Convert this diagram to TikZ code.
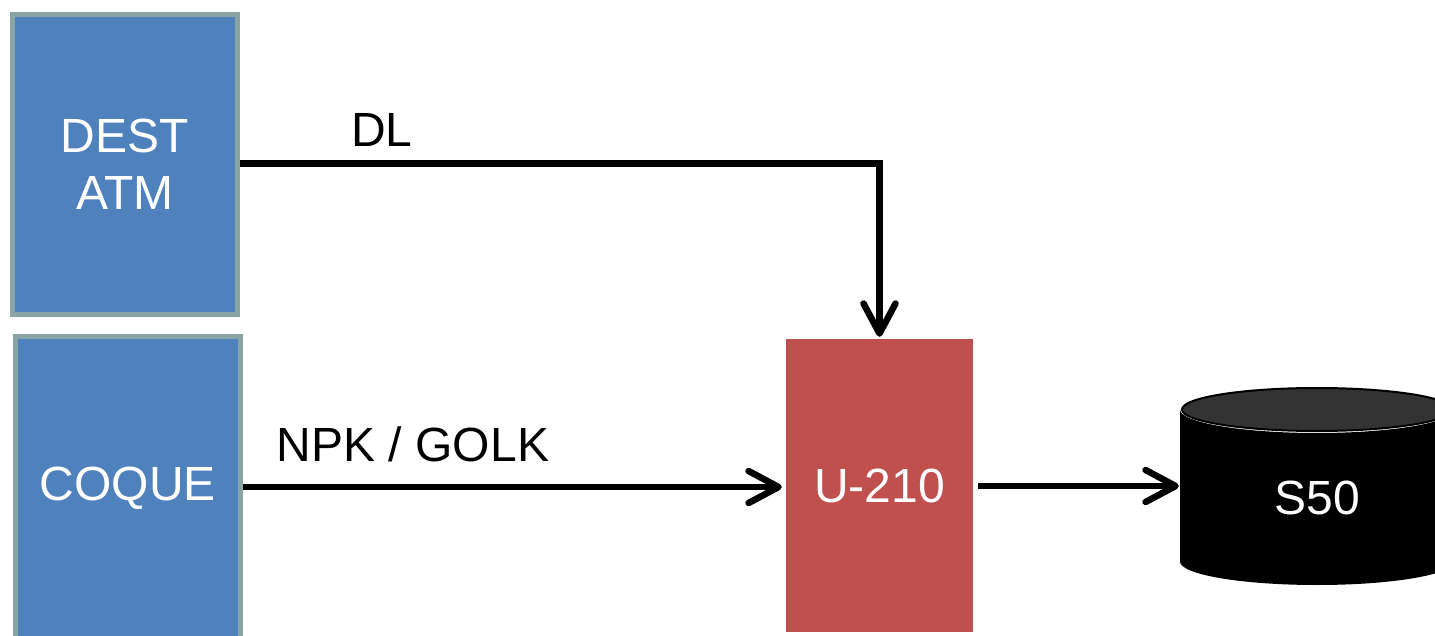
\documentclass[tikz,border=0pt]{standalone}
\usepackage{fontspec}
\setmainfont{Liberation Sans}
\usetikzlibrary{arrows.meta}
\definecolor{boxblue}{HTML}{4F81BD}
\definecolor{boxedge}{HTML}{8AA4A6}
\definecolor{boxred}{HTML}{C0504D}
\definecolor{disktop}{HTML}{333333}
\definecolor{shadowgray}{HTML}{A8A8A8}
\tikzset{
  bigfont/.style={font=\fontsize{48}{57}\selectfont},
  bluebox/.style={draw=boxedge, line width=5pt, fill=boxblue, text=white, align=center,
    bigfont, inner sep=0pt},
  redbox/.style={fill=boxred, text=white, bigfont, inner sep=0pt},
  conn/.style={line width=6.5pt, draw=black, -{Straight Barb[length=30pt,width=32pt,round]},
    preaction={draw=shadowgray, transform canvas={shift={(1pt,-2.5pt)}}}},
  lbl/.style={bigfont, inner sep=0pt}
}
\begin{document}
\begin{tikzpicture}[x=1pt,y=-1pt]
\useasboundingbox (0,0) rectangle (1435,636);
\clip (0,0) rectangle (1435,636);
% boxes
\node[bluebox, minimum width=225pt, minimum height=300pt] (dest) at (125,164.5) {DEST\\ATM};
\node[bluebox, minimum width=225pt, minimum height=303pt] (coque) at (128,488) {COQUE};
\node[redbox, minimum width=187pt, minimum height=293pt] (u210) at (879.5,485.5) {U-210};
% cylinder S50
\fill[black] (1180,409.5) -- (1180,561.5) arc[start angle=180, end angle=0, x radius=137, y radius=23.5]
  -- (1454,409.5) arc[start angle=0, end angle=180, x radius=137, y radius=23.5] -- cycle;
\draw[black, line width=2pt, fill=disktop] (1317,409.5) ellipse [x radius=135, y radius=21.5];
\node[inner sep=0pt, minimum width=274pt, minimum height=199pt, text=white, bigfont]
  (s50) at (1317,498) {S50};
% labels
\node[lbl] (dl) at (382,130) {DL};
\node[lbl] (npk) at (413,444) {NPK / GOLK};
% connectors
\draw[conn, shorten >=2pt] (dest.east |- 0,163.5) -| (u210.north);
\draw[conn, shorten >=4pt] (coque.east |- 0,487) -- (u210.west |- 0,487);
\draw[conn, shorten <=5pt, shorten >=1pt] (u210.east |- 0,486) -- (s50.west |- 0,486);
\end{tikzpicture}
\end{document}
